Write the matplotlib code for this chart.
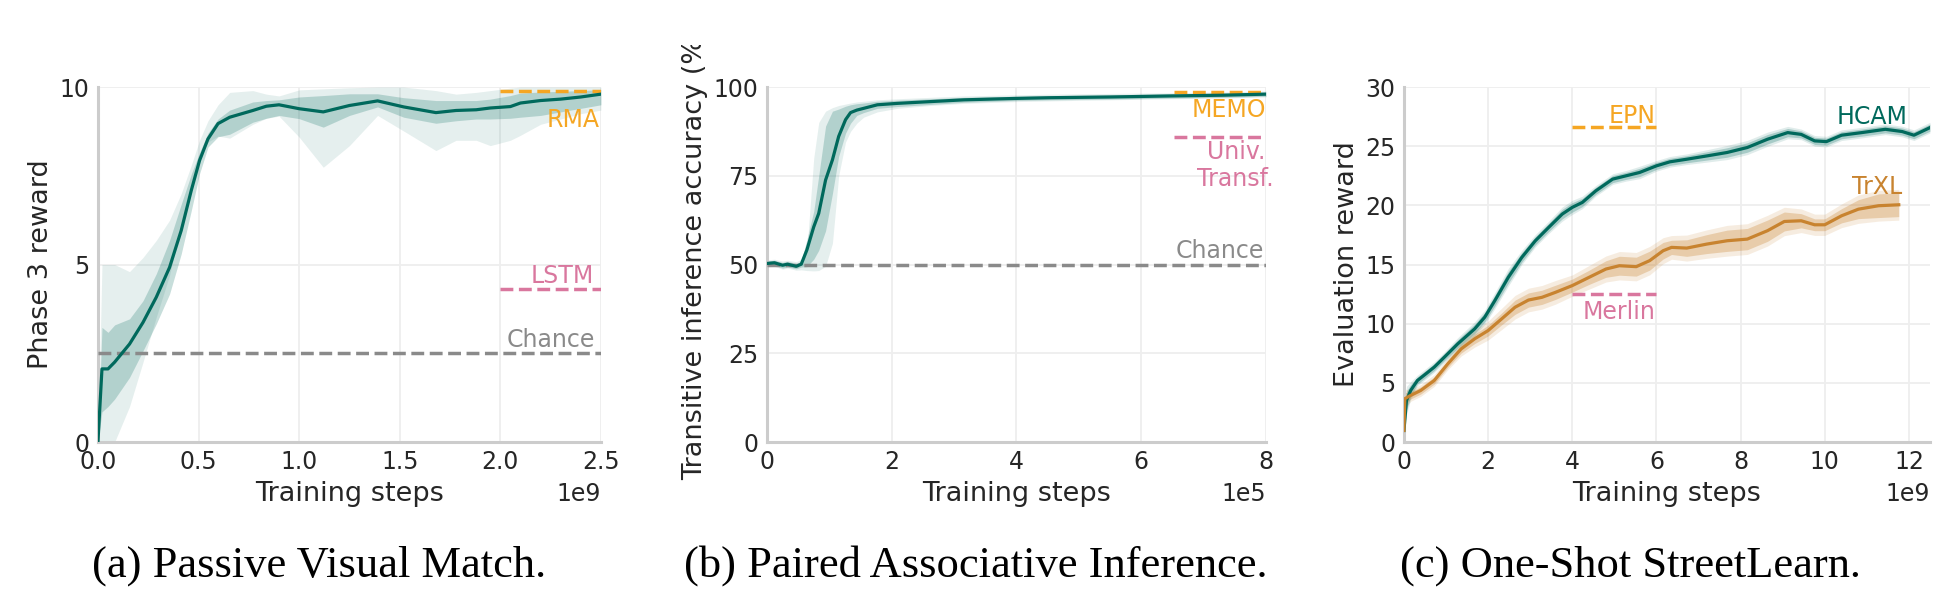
import matplotlib
matplotlib.use("Agg")
import matplotlib.pyplot as plt
import numpy as np
from matplotlib.transforms import Bbox, TransformedBbox

# ---------------- data ----------------
# (a) Passive Visual Match (x in units of 1e9 steps)
a_x = [0, 0.02, 0.05, 0.083, 0.157, 0.224, 0.29, 0.356, 0.414, 0.464, 0.505, 0.547,
       0.597, 0.655, 0.77, 0.837, 0.90, 1.0, 1.12, 1.25, 1.39, 1.52, 1.68, 1.78,
       1.88, 1.95, 2.05, 2.10, 2.2, 2.3, 2.4, 2.5]
a_mean = [0, 2.06, 2.06, 2.25, 2.76, 3.37, 4.08, 4.92, 5.96, 7.09, 7.93, 8.54,
          8.97, 9.15, 9.34, 9.46, 9.50, 9.39, 9.30, 9.48, 9.61, 9.44, 9.28, 9.34,
          9.36, 9.41, 9.45, 9.55, 9.62, 9.66, 9.72, 9.80]
a_in_hi = [0, 3.23, 3.09, 3.3, 3.47, 3.98, 4.74, 5.68, 6.7, 7.55, 8.15, 8.7,
           9.1, 9.35, 9.58, 9.62, 9.64, 9.72, 9.76, 9.81, 9.81, 9.70, 9.62, 9.62,
           9.62, 9.66, 9.76, 9.83, 9.86, 9.88, 9.9, 9.93]
a_in_lo = [0, 0.85, 1.0, 1.21, 1.82, 2.57, 3.33, 4.17, 5.3, 6.52, 7.56, 8.31,
           8.6, 8.67, 9.01, 9.12, 9.2, 9.11, 8.87, 9.2, 9.44, 9.15, 8.98, 9.05,
           9.1, 9.1, 9.12, 9.15, 9.2, 9.3, 9.4, 9.5]
a_out_hi = [0, 5.0, 5.0, 5.0, 4.8, 5.2, 5.68, 6.25, 7.0, 7.8, 8.5, 9.05,
            9.5, 9.85, 9.9, 9.8, 9.75, 9.92, 9.95, 9.98, 10.0, 10.0, 9.9, 9.8,
            9.85, 9.9, 9.97, 10.0, 10.0, 10.0, 10.0, 10.0]
a_out_lo = [0, 0, 0, 0, 1.0, 2.25, 3.52, 4.7, 6.15, 7.3, 8.03, 8.45,
            8.62, 8.56, 8.95, 9.12, 9.18, 8.59, 7.74, 8.35, 9.2, 8.76, 8.21, 8.5,
            8.5, 8.35, 8.5, 8.64, 8.95, 9.1, 9.25, 9.35]
a_rma, a_lstm, a_chance = 9.9, 4.3, 2.5

# (b) Paired Associative Inference (x in units of 1e5 steps)
b_x = [0, 0.12, 0.25, 0.33, 0.47, 0.55, 0.64, 0.75, 0.83, 0.94, 1.05, 1.15, 1.26,
       1.34, 1.44, 1.55, 1.77, 2.09, 2.62, 3.16, 4.0, 4.55, 5.5, 6.5, 7.3, 8.0]
b_mean = [50.3, 50.5, 49.8, 50.1, 49.5, 50.1, 54.1, 60.6, 64.4, 73.8, 79.5, 86.1, 90.8,
          92.8, 93.5, 94.0, 95.0, 95.4, 95.9, 96.4, 96.8, 97.0, 97.2, 97.5, 97.7, 98.0]
b_in_hi = [51.0, 51.2, 50.6, 50.9, 50.3, 51.0, 57.0, 65.0, 75.0, 89.0, 93.2, 93.8, 94.6,
           95.0, 95.3, 95.5, 96.0, 96.3, 96.7, 97.1, 97.4, 97.6, 97.8, 98.1, 98.3, 98.6]
b_in_lo = [49.6, 49.8, 49.0, 49.3, 48.8, 49.3, 49.4, 51.5, 54.0, 59.5, 70.0, 80.5, 87.0,
           89.8, 92.0, 92.8, 94.0, 94.5, 95.1, 95.7, 96.2, 96.4, 96.6, 96.9, 97.1, 97.4]
b_out_hi = [51.3, 51.5, 51.0, 51.2, 50.8, 51.5, 54.0, 80.0, 90.0, 93.2, 94.2, 94.8, 95.2,
            95.5, 95.8, 96.0, 96.4, 96.7, 97.1, 97.5, 97.8, 98.0, 98.2, 98.4, 98.6, 98.9]
b_out_lo = [49.3, 49.5, 48.7, 49.0, 48.4, 48.5, 48.3, 48.2, 48.3, 49.5, 56.0, 75.0, 84.5,
            87.5, 89.8, 91.5, 93.0, 94.0, 94.8, 95.4, 95.9, 96.1, 96.4, 96.7, 96.9, 97.2]
b_memo, b_univ, b_chance = 98.7, 85.8, 50.0

# (c) One-Shot StreetLearn (x in units of 1e9 steps)
c_hx = [0, 0.06, 0.16, 0.32, 0.52, 0.72, 0.96, 1.28, 1.68, 1.92, 2.16, 2.48, 2.8,
        3.12, 3.44, 3.76, 4.0, 4.24, 4.56, 4.96, 5.28, 5.6, 6.0, 6.32, 6.72, 7.2,
        7.68, 8.16, 8.64, 9.12, 9.44, 9.76, 10.04, 10.4, 10.88, 11.44, 11.84, 12.12, 12.5]
c_hcam = [0.98, 3.5, 4.36, 5.2, 5.76, 6.33, 7.17, 8.3, 9.56, 10.55, 11.95, 13.92, 15.6,
          17.0, 18.14, 19.26, 19.83, 20.25, 21.23, 22.22, 22.5, 22.78, 23.34, 23.68, 23.9, 24.18,
          24.47, 24.89, 25.59, 26.15, 26.0, 25.45, 25.39, 25.93, 26.15, 26.43, 26.24, 25.93, 26.57]
c_hcam_spread = [0.5, 0.8, 0.5, 0.3, 0.3, 0.3, 0.3, 0.35, 0.4, 0.4, 0.45, 0.5, 0.4,
                 0.35, 0.35, 0.4, 0.4, 0.35, 0.3, 0.3, 0.3, 0.35, 0.3, 0.3, 0.3, 0.35,
                 0.4, 0.4, 0.4, 0.35, 0.3, 0.3, 0.3, 0.3, 0.3, 0.3, 0.3, 0.3, 0.3]
c_tx = [0, 0.02, 0.16, 0.4, 0.72, 1.04, 1.36, 1.68, 2.0, 2.32, 2.64, 2.96, 3.28, 3.6,
        4.0, 4.4, 4.8, 5.12, 5.52, 5.84, 6.16, 6.36, 6.72, 7.2, 7.68, 8.16, 8.64, 9.04,
        9.44, 9.76, 10.0, 10.4, 10.8, 11.28, 11.76]
c_trxl = [0.98, 3.66, 3.94, 4.36, 5.2, 6.6, 7.87, 8.72, 9.42, 10.4, 11.39, 12.0, 12.23, 12.65,
          13.22, 13.92, 14.62, 14.9, 14.82, 15.33, 16.17, 16.45, 16.39, 16.73, 17.01, 17.15, 17.86, 18.64,
          18.7, 18.36, 18.36, 19.12, 19.68, 19.97, 20.05]
c_trxl_in = [0.3, 0.5, 0.3, 0.3, 0.3, 0.3, 0.35, 0.4, 0.45, 0.5, 0.6, 0.6, 0.6, 0.6,
             0.55, 0.6, 0.7, 0.8, 0.8, 0.8, 0.7, 0.6, 0.7, 0.8, 0.9, 0.9, 0.9, 0.8,
             0.6, 0.5, 0.5, 0.6, 0.8, 1.0, 1.0]
c_trxl_out = [0.5, 0.8, 0.5, 0.5, 0.5, 0.5, 0.6, 0.7, 0.8, 0.9, 1.0, 1.0, 1.0, 1.0,
              0.9, 1.0, 1.1, 1.2, 1.2, 1.2, 1.1, 1.0, 1.1, 1.2, 1.3, 1.3, 1.3, 1.2,
              1.0, 0.9, 0.9, 1.0, 1.2, 1.3, 1.3]
c_epn, c_merlin = 26.63, 12.5

captions = ["(a) Passive Visual Match.", "(b) Paired Associative Inference.",
            "(c) One-Shot StreetLearn."]

# ---------------- style ----------------
TEAL = "#00695C"
BROWN = "#C8832F"
ORANGE = "#F5A623"
PINK = "#D9779E"
GRAY = "#8A8A8A"
TXT = "#262626"
FS_TICK = 17
FS_LABEL = 19.5
FS_ANN = 17

plt.rcParams['font.family'] = ['DejaVu Sans']

fig = plt.figure(figsize=(19.51, 5.95), dpi=100)
axA = fig.add_axes([0.0502, 0.2571, 0.2578, 0.5966])
axB = fig.add_axes([0.3931, 0.2571, 0.2558, 0.5966])
axC = fig.add_axes([0.7196, 0.2571, 0.2696, 0.5966])


def style(ax, xlim, ylim, xticks, yticks, ylabel, offset):
    ax.set_xlim(*xlim)
    ax.set_ylim(*ylim)
    ax.set_xticks(xticks)
    ax.set_yticks(yticks)
    ax.grid(True, color="#EEEEEE", linewidth=1.3, zorder=0)
    ax.set_axisbelow(True)
    for s in ["top", "right"]:
        ax.spines[s].set_visible(False)
    for s in ["left", "bottom"]:
        ax.spines[s].set_color("#CCCCCC")
        ax.spines[s].set_linewidth(2.2)
    ax.tick_params(length=0, pad=6, labelsize=FS_TICK, labelcolor=TXT)
    ax.set_xlabel("Training steps", fontsize=FS_LABEL, color=TXT, labelpad=5)
    ax.set_ylabel(ylabel, fontsize=FS_LABEL, color=TXT)
    ax.text(1.0, -0.113, offset, transform=ax.transAxes, ha="right", va="top",
            fontsize=FS_TICK, color=TXT)


# ---- (a)
style(axA, (0, 2.5), (0, 10), [0, 0.5, 1.0, 1.5, 2.0, 2.5], [0, 5, 10],
      "Phase 3 reward", "1e9")
axA.xaxis.set_major_formatter(matplotlib.ticker.FormatStrFormatter("%.1f"))
axA.fill_between(a_x, a_out_lo, a_out_hi, color=TEAL, alpha=0.10, linewidth=0, zorder=2)
axA.fill_between(a_x, a_in_lo, a_in_hi, color=TEAL, alpha=0.22, linewidth=0, zorder=2)
axA.plot([0, 2.5], [a_chance, a_chance], color=GRAY, lw=2.5, ls="--", zorder=3)
axA.plot([2.0, 2.5], [a_rma, a_rma], color=ORANGE, lw=2.5, ls="--", zorder=3)
axA.plot([2.0, 2.5], [a_lstm, a_lstm], color=PINK, lw=2.5, ls="--", zorder=3)
axA.plot(a_x, a_mean, color=TEAL, lw=2.3, zorder=4)
axA.text(2.495, 8.87, "RMA", color=ORANGE, fontsize=FS_ANN, ha="right", va="baseline")
axA.text(2.465, 4.48, "LSTM", color=PINK, fontsize=FS_ANN, ha="right", va="baseline")
axA.text(2.47, 2.68, "Chance", color=GRAY, fontsize=FS_ANN, ha="right", va="baseline")

# ---- (b)
style(axB, (0, 8), (0, 100), [0, 2, 4, 6, 8], [0, 25, 50, 75, 100],
      "Transitive inference accuracy (%)", "1e5")
axB.fill_between(b_x, b_out_lo, b_out_hi, color=TEAL, alpha=0.10, linewidth=0, zorder=2)
axB.fill_between(b_x, b_in_lo, b_in_hi, color=TEAL, alpha=0.22, linewidth=0, zorder=2)
axB.plot([0, 8], [b_chance, b_chance], color=GRAY, lw=2.5, ls="--", zorder=3)
axB.plot([6.53, 8], [b_memo, b_memo], color=ORANGE, lw=2.5, ls="--", zorder=3)
axB.plot([6.53, 8], [b_univ, b_univ], color=PINK, lw=2.5, ls="--", zorder=3)
axB.plot(b_x, b_mean, color=TEAL, lw=2.3, zorder=4)
axB.text(8.0, 91.5, "MEMO", color=ORANGE, fontsize=FS_ANN, ha="right", va="baseline")
axB.text(8.13, 85.0, "Univ.\nTransf.", color=PINK, fontsize=FS_ANN, ha="right", va="top",
         multialignment="center", linespacing=1.15)
axB.text(7.96, 51.8, "Chance", color=GRAY, fontsize=FS_ANN, ha="right", va="baseline")
axB.yaxis.label.set_y(0.53)
clip = TransformedBbox(Bbox([[0, 0], [1, (595 - 45) / 595]]), fig.transFigure)
axB.yaxis.label.set_clip_box(clip)
axB.yaxis.label.set_clip_on(True)

# ---- (c)
style(axC, (0, 12.5), (0, 30), [0, 2, 4, 6, 8, 10, 12], [0, 5, 10, 15, 20, 25, 30],
      "Evaluation reward", "1e9")
hx = np.array(c_hx); hm = np.array(c_hcam); hs = np.array(c_hcam_spread)
tx = np.array(c_tx); tm = np.array(c_trxl)
ti = np.array(c_trxl_in); to = np.array(c_trxl_out)
axC.fill_between(hx, hm - hs * 1.5, hm + hs * 1.5, color=TEAL, alpha=0.12, linewidth=0, zorder=2)
axC.fill_between(hx, hm - hs, hm + hs, color=TEAL, alpha=0.25, linewidth=0, zorder=2)
axC.fill_between(tx, tm - to, tm + to, color=BROWN, alpha=0.15, linewidth=0, zorder=2)
axC.fill_between(tx, tm - ti, tm + ti, color=BROWN, alpha=0.30, linewidth=0, zorder=2)
axC.plot([4, 6], [c_epn, c_epn], color=ORANGE, lw=2.5, ls="--", zorder=3)
axC.plot([4, 6], [c_merlin, c_merlin], color=PINK, lw=2.5, ls="--", zorder=3)
axC.plot(hx, hm, color=TEAL, lw=2.3, zorder=4)
axC.plot(tx, tm, color=BROWN, lw=2.3, zorder=4)
axC.text(5.97, 27.0, "EPN", color=ORANGE, fontsize=FS_ANN, ha="right", va="baseline")
axC.text(5.98, 10.4, "Merlin", color=PINK, fontsize=FS_ANN, ha="right", va="baseline")
axC.text(11.96, 26.86, "HCAM", color=TEAL, fontsize=FS_ANN, ha="right", va="baseline")
axC.text(11.84, 20.95, "TrXL", color=BROWN, fontsize=FS_ANN, ha="right", va="baseline")

# ---- captions
cap_kw = dict(fontsize=32, family=["Liberation Serif", "DejaVu Serif"], color="black",
              ha="center", va="baseline")
for cx, cap in zip([0.1635, 0.5003, 0.8355], captions):
    fig.text(cx, 0.031, cap, **cap_kw)

fig.savefig("out.png", dpi=100, facecolor="white")
